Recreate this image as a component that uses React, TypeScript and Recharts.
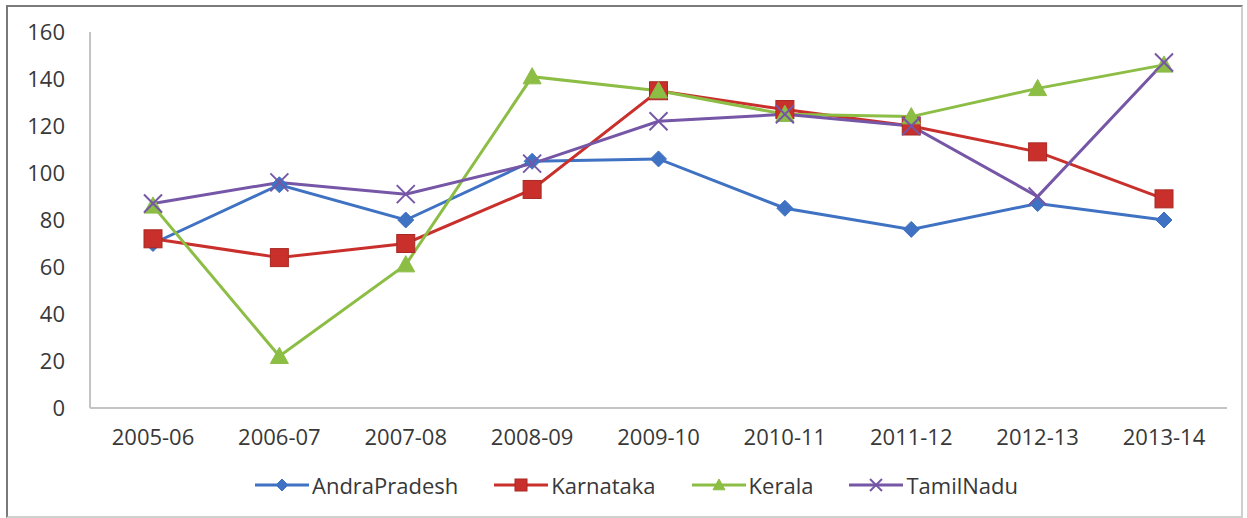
import { LineChart, Line, XAxis, YAxis } from 'recharts';

const years = ['2005-06', '2006-07', '2007-08', '2008-09', '2009-10', '2010-11', '2011-12', '2012-13', '2013-14'];
const andraPradesh = [70, 95, 80, 105, 106, 85, 76, 87, 80];
const karnataka = [72, 64, 70, 93, 135, 127, 120, 109, 89];
const kerala = [86, 22, 61, 141, 135, 125, 124, 136, 146];
const tamilNadu = [87, 96, 91, 104, 122, 125, 120, 90, 147];
const yTicks = [0, 20, 40, 60, 80, 100, 120, 140, 160];

const data = years.map((y, i) => ({
  year: y,
  AndraPradesh: andraPradesh[i],
  Karnataka: karnataka[i],
  Kerala: kerala[i],
  TamilNadu: tamilNadu[i],
}));

const BLUE = '#3f72c2';
const RED = '#c9302c';
const GREEN = '#8cbd45';
const PURPLE = '#7656a6';
const FONT = '"Open Sans", "Liberation Sans", sans-serif';

type Shape = 'diamond' | 'square' | 'triangle' | 'x';

function marker(shape: Shape, color: string, cx: number, cy: number, s: number, key?: any) {
  if (shape === 'diamond') {
    return <path key={key} d={`M${cx},${cy - s} L${cx + s},${cy} L${cx},${cy + s} L${cx - s},${cy} Z`} fill={color} stroke={color} />;
  }
  if (shape === 'square') {
    return <rect key={key} x={cx - s} y={cy - s} width={s * 2} height={s * 2} fill={color} stroke="#a82824" strokeWidth={1} />;
  }
  if (shape === 'triangle') {
    return <path key={key} d={`M${cx},${cy - s} L${cx + s},${cy + s * 0.8} L${cx - s},${cy + s * 0.8} Z`} fill={color} stroke={color} />;
  }
  return (
    <g key={key} stroke={color} strokeWidth={2}>
      <line x1={cx - s} y1={cy - s} x2={cx + s} y2={cy + s} />
      <line x1={cx - s} y1={cy + s} x2={cx + s} y2={cy - s} />
    </g>
  );
}

const dotFor = (shape: Shape, color: string, s: number) => (p: any) =>
  marker(shape, color, p.cx, p.cy, s, `${shape}-${p.index}`);

const series: { key: string; color: string; shape: Shape; size: number }[] = [
  { key: 'AndraPradesh', color: BLUE, shape: 'diamond', size: 8 },
  { key: 'Karnataka', color: RED, shape: 'square', size: 9 },
  { key: 'Kerala', color: GREEN, shape: 'triangle', size: 9 },
  { key: 'TamilNadu', color: PURPLE, shape: 'x', size: 9 },
];

export default function App() {
  return (
    <div style={{ position: 'absolute', left: 0, top: 0, width: 1247, height: 518, background: '#fff' }}>
      <div
        style={{
          position: 'absolute',
          left: 6,
          top: 5,
          width: 1233,
          height: 509,
          borderTop: '2px solid #7a7a7a',
          borderLeft: '2px solid #7a7a7a',
          borderRight: '2px solid #cfcfcf',
          borderBottom: '2px solid #cfcfcf',
        }}
      />
      <div style={{ position: 'absolute', left: 0, top: 0 }}>
        <LineChart width={1247} height={518} data={data} margin={{ top: 32, right: 20, bottom: 0, left: 0 }}>
          <XAxis
            dataKey="year"
            height={110}
            padding={{ left: 63, right: 63 }}
            tickLine={false}
            tickSize={0}
            tickMargin={21}
            axisLine={{ stroke: '#c4c4c4', strokeWidth: 2 }}
            tick={{ fill: '#383838', fontSize: 22, fontFamily: FONT }}
          />
          <YAxis
            width={90}
            domain={[0, 160]}
            ticks={yTicks}
            tickLine={false}
            tickSize={0}
            tickMargin={25}
            axisLine={{ stroke: '#c4c4c4', strokeWidth: 2 }}
            tick={{ fill: '#383838', fontSize: 22, fontFamily: FONT }}
          />
          {series.map((s) => (
            <Line
              key={s.key}
              type="linear"
              dataKey={s.key}
              stroke={s.color}
              strokeWidth={3}
              dot={dotFor(s.shape, s.color, s.size)}
              activeDot={false}
              isAnimationActive={false}
            />
          ))}
        </LineChart>
      </div>
      <div
        style={{
          position: 'absolute',
          left: 0,
          width: 1247,
          top: 470,
          display: 'flex',
          justifyContent: 'center',
          gap: 36,
          fontFamily: FONT,
          fontSize: 22,
          color: '#383838',
          paddingLeft: 26,
          boxSizing: 'border-box',
        }}
      >
        {series.map((s) => (
          <div key={s.key} style={{ display: 'flex', alignItems: 'center', gap: 3 }}>
            <svg width={54} height={20}>
              <line x1={0} y1={10} x2={54} y2={10} stroke={s.color} strokeWidth={3} />
              {marker(s.shape, s.color, 27, 10, 6)}
            </svg>
            <span>{s.key}</span>
          </div>
        ))}
      </div>
    </div>
  );
}
